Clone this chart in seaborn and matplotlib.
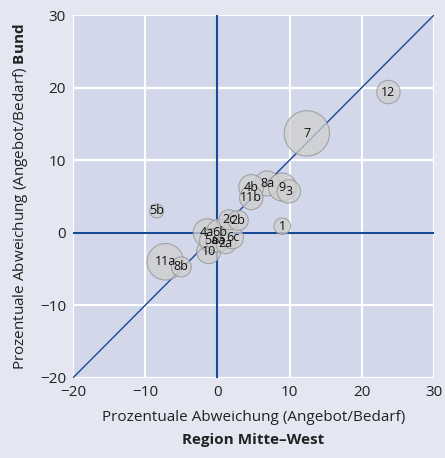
import numpy as np
import pandas as pd
import seaborn as sns
import matplotlib.pyplot as plt

# Regionen (Labels der Blasen)
regionen = ['12', '7', '8a', '9', '3', '4b', '11b', '5b', '1', '11a', '8b', '10',
            '4a', '6b', '5a', '6a', '2a', '6c', '2c', '2b']
# Abweichung Region Mitte-West (x) und Bund (y) in Prozent
abw_mitte_west = [23.7, 12.4, 6.9, 9.0, 9.9, 4.7, 4.7, -8.4, 9.0, -7.2, -5.0, -1.2,
                  -1.4, 0.3, -0.8, 0.1, 1.2, 2.1, 1.6, 2.9]
abw_bund = [19.4, 13.7, 6.8, 6.3, 5.7, 6.3, 4.8, 3.0, 0.9, -4.0, -4.7, -2.6,
            0.0, 0.1, -1.1, -1.0, -1.5, -0.7, 1.8, 1.7]
# Blasengroesse (Flaeche)
groesse = [137, 515, 156, 196, 137, 156, 137, 49, 69, 335, 100, 144,
           196, 169, 144, 144, 100, 121, 100, 100]

df = pd.DataFrame({'Region': regionen, 'x': abw_mitte_west, 'y': abw_bund, 'g': groesse})

sns.set_style('white')
plt.rcParams['font.family'] = ['Open Sans', 'DejaVu Sans']
plt.rcParams['mathtext.fontset'] = 'custom'
plt.rcParams['mathtext.rm'] = 'Open Sans'
plt.rcParams['mathtext.bf'] = 'Open Sans:bold'

fig = plt.figure(figsize=(4.45, 4.58), dpi=100, facecolor='#e4e6f1')
ax = fig.add_axes([0.164, 0.175, 0.811, 0.792])
ax.set_facecolor('#d2d7e9')

blau = '#174a94'
ax.grid(True, color='white', lw=1.6, zorder=0)
ax.set_axisbelow(True)
ax.axhline(0, color=blau, lw=1.5, zorder=1)
ax.axvline(0, color=blau, lw=1.5, zorder=1)
ax.plot([-20, 30], [-20, 30], color=blau, lw=1.0, zorder=1)

# Flaeche in pt^2
df['s'] = df['g'] * 2.07
sns.scatterplot(data=df, x='x', y='y', size='s', sizes=(df['s'].min(), df['s'].max()),
                color='#cfcfcf', alpha=0.75, edgecolor='#929292', linewidth=0.8,
                legend=False, ax=ax, zorder=3)

for _, r in df.iterrows():
    ax.text(r['x'], r['y'], r['Region'], ha='center', va='center', fontsize=9,
            color='#111111', zorder=4)

ax.set_xlim(-20, 30)
ax.set_ylim(-20, 30)
ax.set_xticks([-20, -10, 0, 10, 20, 30])
ax.set_yticks([-20, -10, 0, 10, 20, 30])
ax.tick_params(length=0, labelsize=11, pad=5, colors='#222222')
for s in ax.spines.values():
    s.set_visible(False)

ax.set_xlabel('Prozentuale Abweichung (Angebot/Bedarf)', fontsize=11, labelpad=7, color='#222222')
ax.text(0.5, -0.151, 'Region Mitte–West', transform=ax.transAxes, ha='center', va='top',
        fontsize=11, fontweight='bold', color='#222222')
ax.set_ylabel('Prozentuale Abweichung (Angebot/Bedarf) $\\bf{Bund}$', fontsize=11,
              labelpad=7, color='#222222')

fig.savefig('out.png', dpi=100, facecolor=fig.get_facecolor())
